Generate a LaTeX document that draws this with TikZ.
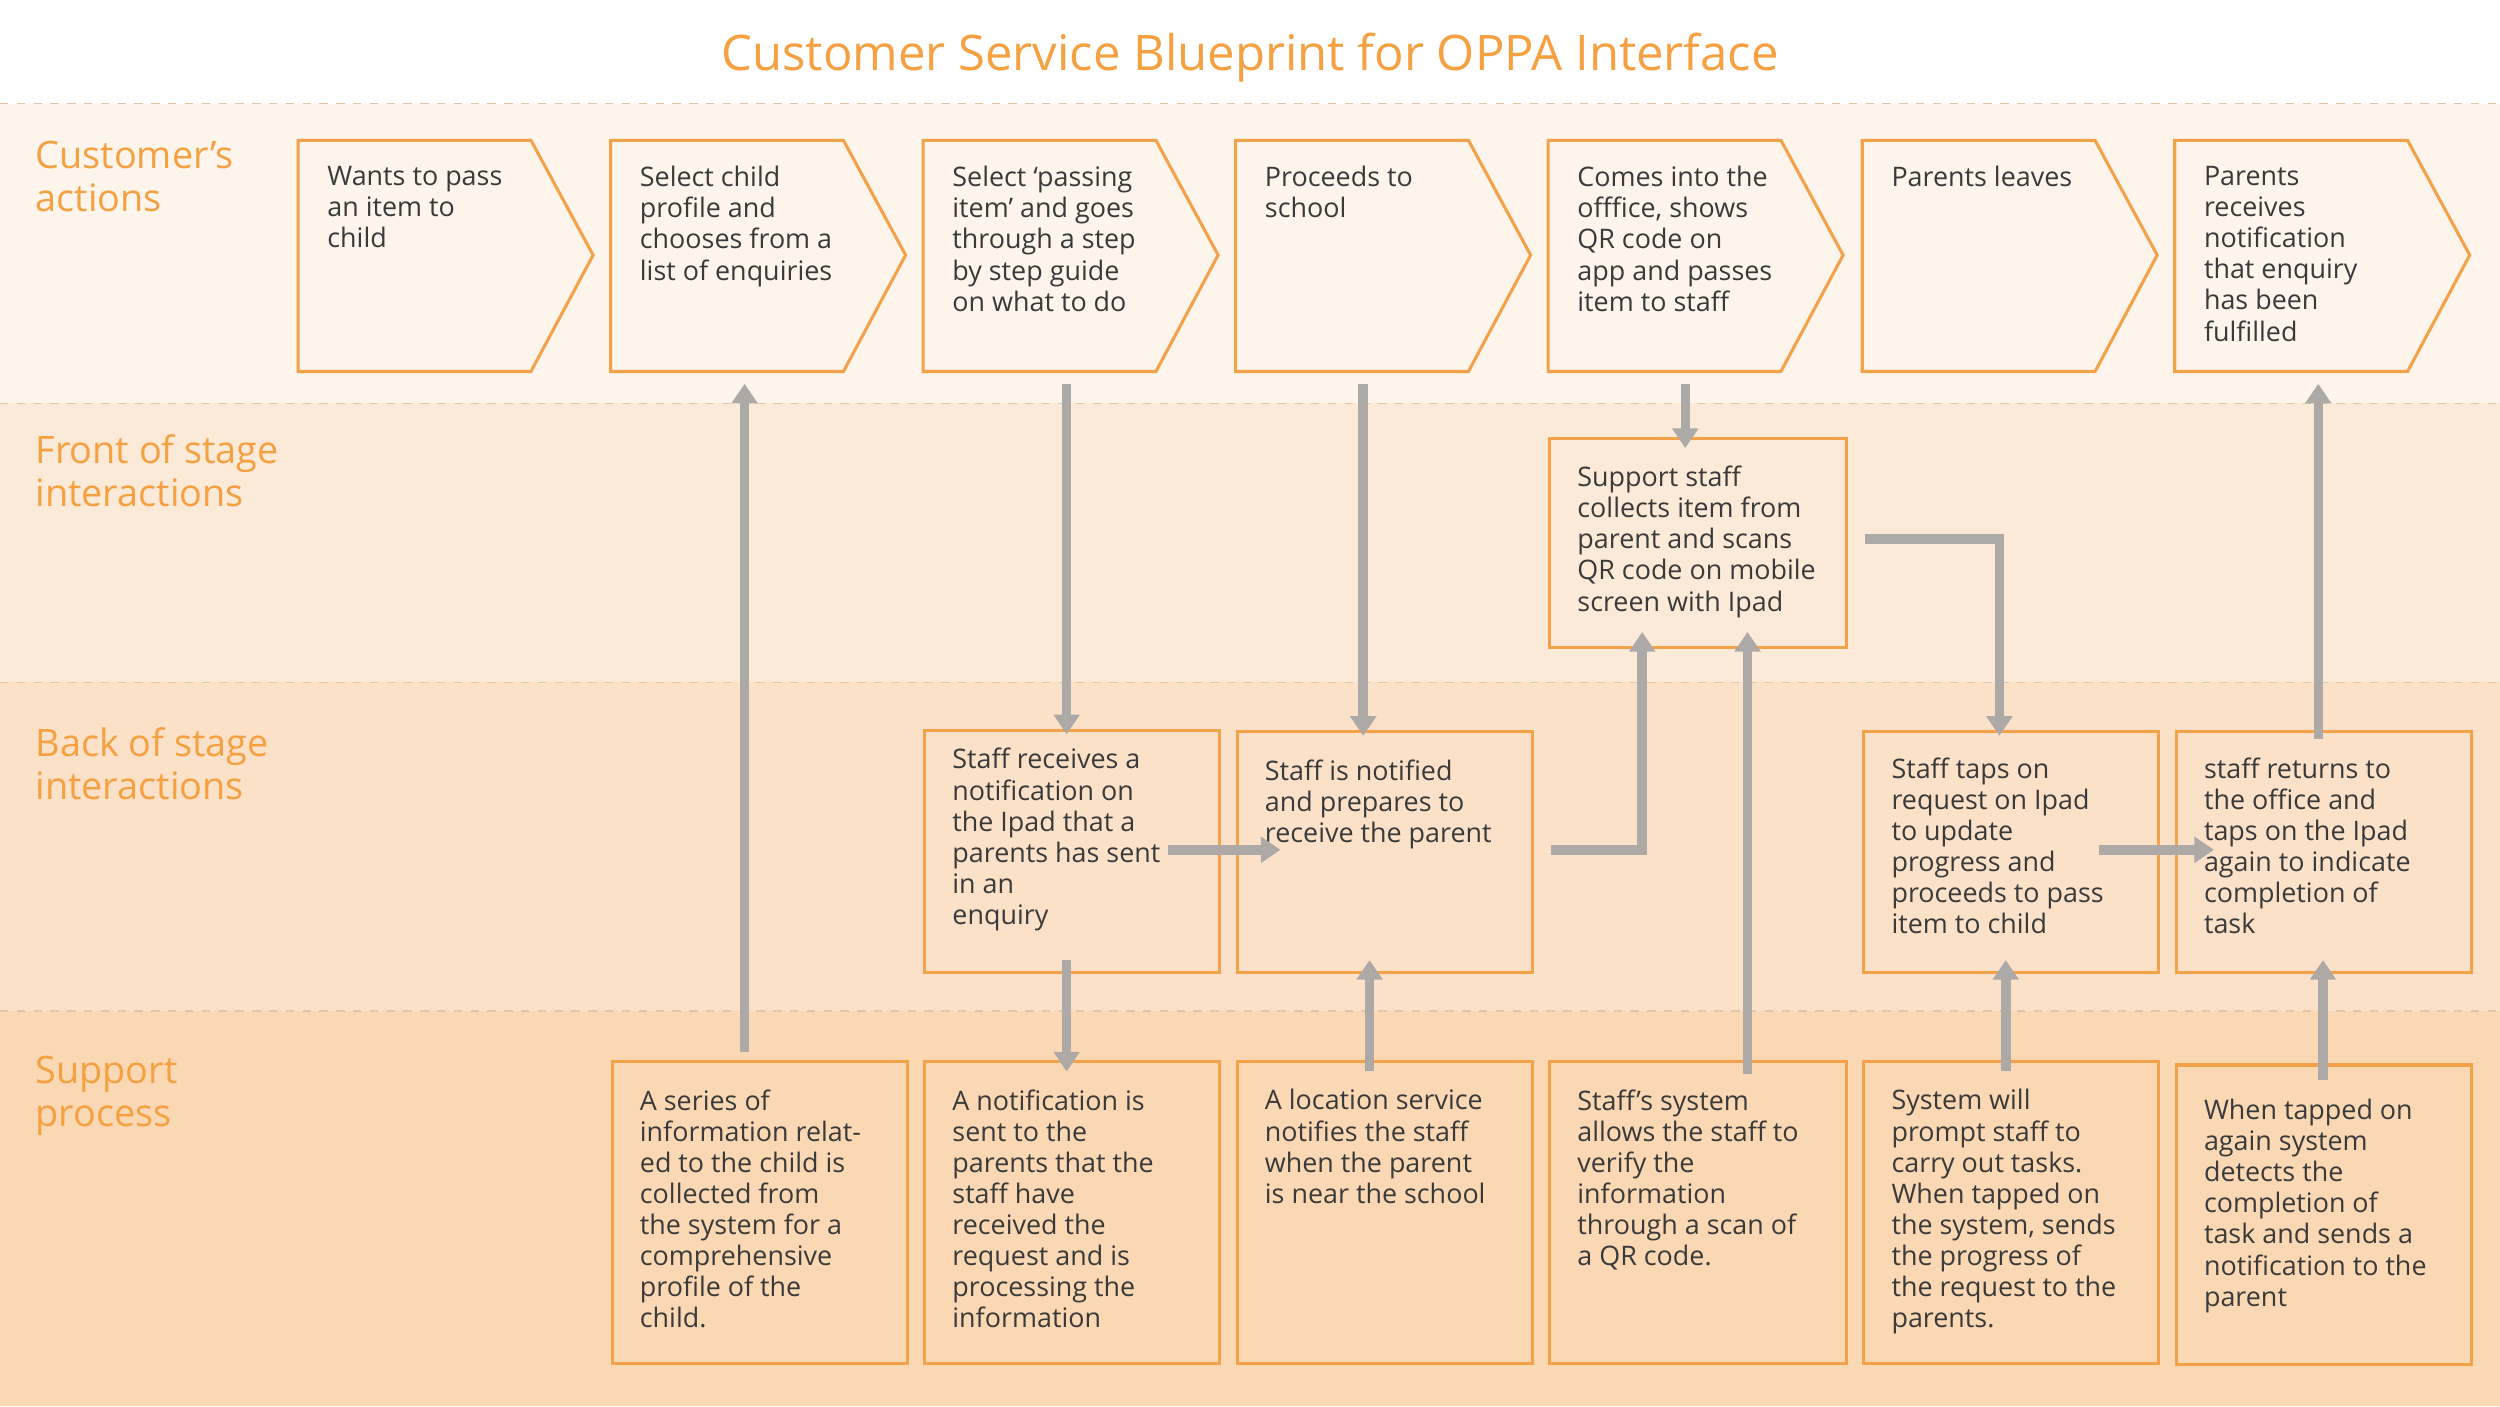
\documentclass[tikz,border=0pt]{standalone}
\usepackage{fontspec}
\setmainfont{Open Sans}
\usetikzlibrary{arrows.meta,calc}
\definecolor{oppaorange}{HTML}{F5A142}
\definecolor{boxline}{HTML}{F3A24A}
\definecolor{laneA}{HTML}{FDF4EB}
\definecolor{laneB}{HTML}{FCEAD9}
\definecolor{laneC}{HTML}{FBE1C8}
\definecolor{laneD}{HTML}{FAD8B4}
\definecolor{flowgray}{HTML}{ADA9A7}
\definecolor{ink}{HTML}{3A3A3A}

% box with its text at the top left corner
\newcommand{\bpbox}[7]{%
  \node[box, anchor=north west, minimum width=#4*0.02cm, minimum height=#5*0.02cm] (#1) at (#2,#3) {};
  \node[txt, anchor=north west] at ([shift={(18,#6)}]#1.north west) {#7};
}
% chevron step in the customer lane
\newcommand{\bpchev}[3]{%
  \node[anchor=north west, minimum width=146*0.02cm, minimum height=145*0.02cm, inner sep=0] (#1) at (#2,88) {};
  \draw[boxline, line width=1.1pt] (#2,88) -- ++(146,0) -- ++(39,72) -- ++(-39,73) -- ++(-146,0) -- cycle;
  \node[txt, anchor=north west] at (#2+18,104) {#3};
}

\begin{document}
\begin{tikzpicture}[
  x=0.02cm, y=-0.02cm,
  box/.style={draw=boxline, line width=1.1pt, inner sep=0},
  txt/.style={text=ink, align=left, inner sep=0, font=\fontsize{9.6}{11.1}\selectfont},
  lane/.style={text=oppaorange, align=left, anchor=north west, inner sep=0, font=\fontsize{13.5}{15.3}\selectfont},
  sep/.style={draw=laneD!80!gray, dashed, line width=0.6pt},
  flow/.style={draw=flowgray, line width=3.4pt, -{Triangle[length=7pt,width=9pt]}}
]
\useasboundingbox (0,0) rectangle (1568,882);

% --- lanes ---
\fill[white] (0,0) rectangle (1568,65);
\fill[laneA] (0,65) rectangle (1568,253);
\fill[laneB] (0,253) rectangle (1568,428);
\fill[laneC] (0,428) rectangle (1568,634);
\fill[laneD] (0,634) rectangle (1568,882);
\foreach \yy in {65,253,428,634} \draw[sep] (0,\yy) -- (1568,\yy);

\node[text=oppaorange, font=\fontsize{17.5}{20}\selectfont] (title) at (784,36) {Customer Service Blueprint for OPPA Interface};

\node[lane] (l1) at (22,88)  {Customer’s\\actions};
\node[lane] (l2) at (22,272) {Front of stage\\interactions};
\node[lane] (l3) at (22,456) {Back of stage\\interactions};
\node[lane] (l4) at (22,662) {Support\\process};

% --- customer's actions ---
\bpchev{c1}{187}{Wants to pass\\an item to\\child}
\bpchev{c2}{383}{Select child\\profile and\\chooses from a\\list of enquiries}
\bpchev{c3}{579}{Select ‘passing\\item’ and goes\\through a step\\by step guide\\on what to do}
\bpchev{c4}{775}{Proceeds to\\school}
\bpchev{c5}{971}{Comes into the\\offfice, shows\\QR code on\\app and passes\\item to staff}
\bpchev{c6}{1168}{Parents leaves}
\bpchev{c7}{1364}{Parents\\receives\\notification\\that enquiry\\has been\\fulfilled}

% --- front of stage ---
\bpbox{f5}{971}{274}{186}{131}{18}{Support staff\\collects item from\\parent and scans\\QR code on mobile\\screen with Ipad}

% --- back of stage ---
\bpbox{b3}{579}{457}{185}{152}{12}{Staff receives a\\notification on\\the Ipad that a\\parents has sent\\in an\\enquiry}
\bpbox{b4}{775}{458}{185}{151}{18}{Staff is notified\\and prepares to\\receive the parent}
\bpbox{b6}{1168}{458}{185}{151}{17}{Staff taps on\\request on Ipad\\to update\\progress and\\proceeds to pass\\item to child}
\bpbox{b7}{1364}{458}{185}{151}{17}{staff returns to\\the office and\\taps on the Ipad\\again to indicate\\completion of\\task}

% --- support process ---
\bpbox{s2}{383}{665}{185}{189}{18}{A series of\\information relat-\\ed to the child is\\collected from\\the system for a\\comprehensive\\profile of the\\child.}
\bpbox{s3}{579}{665}{185}{189}{18}{A notification is\\sent to the\\parents that the\\staff have\\received the\\request and is\\processing the\\information}
\bpbox{s4}{775}{665}{185}{189}{18}{A location service\\notifies the staff\\when the parent\\is near the school}
\bpbox{s5}{971}{665}{186}{189}{18}{Staff’s system\\allows the staff to\\verify the\\information\\through a scan of\\a QR code.}
\bpbox{s6}{1168}{665}{185}{189}{18}{System will\\prompt staff to\\carry out tasks.\\When tapped on\\the system, sends\\the progress of\\the request to the\\parents.}
\bpbox{s7}{1364}{667}{185}{188}{22}{When tapped on\\again system\\detects the\\completion of\\task and sends a\\notification to the\\parent}

% --- flows ---
\draw[flow] (s2.north -| 467,0) ++(0,-5) -- ([yshift=-4]c2.south -| 467,0);
\draw[flow] ([yshift=-4]c3.south -| 669,0) -- ([yshift=-2]b3.north -| 669,0);
\draw[flow] ([yshift=-4]c4.south -| 855,0) -- ([yshift=-2]b4.north -| 855,0);
\draw[flow] ([yshift=-4]c5.south -| 1057,0) -- ([yshift=-4]f5.north -| 1057,0);
\draw[flow] ([xshift=6]f5.east |- 0,338) -| ([yshift=-2]b6.north -| 1254,0);
\draw[flow] ([yshift=-3]b7.north -| 1454,0) -- ([yshift=-4]c7.south -| 1454,0);
\draw[flow] ([xshift=-19]b3.east |- 0,533) -- ([xshift=16]b4.west |- 0,533);
\draw[flow] ([xshift=6]b4.east |- 0,533) -| ([yshift=6]f5.south -| 1030,0);
\draw[flow] ([yshift=-5]s5.north -| 1096,0) -- ([yshift=6]f5.south -| 1096,0);
\draw[flow] ([yshift=5]b3.south -| 669,0) -- ([yshift=-4]s3.north -| 669,0);
\draw[flow] ([yshift=-4]s4.north -| 859,0) -- ([yshift=5]b4.south -| 859,0);
\draw[flow] ([yshift=-4]s6.north -| 1258,0) -- ([yshift=5]b6.south -| 1258,0);
\draw[flow] ([yshift=-6]s7.north -| 1457,0) -- ([yshift=5]b7.south -| 1457,0);
\draw[flow] ([xshift=-22]b6.east |- 0,533) -- ([xshift=14]b7.west |- 0,533);
\end{tikzpicture}
\end{document}
